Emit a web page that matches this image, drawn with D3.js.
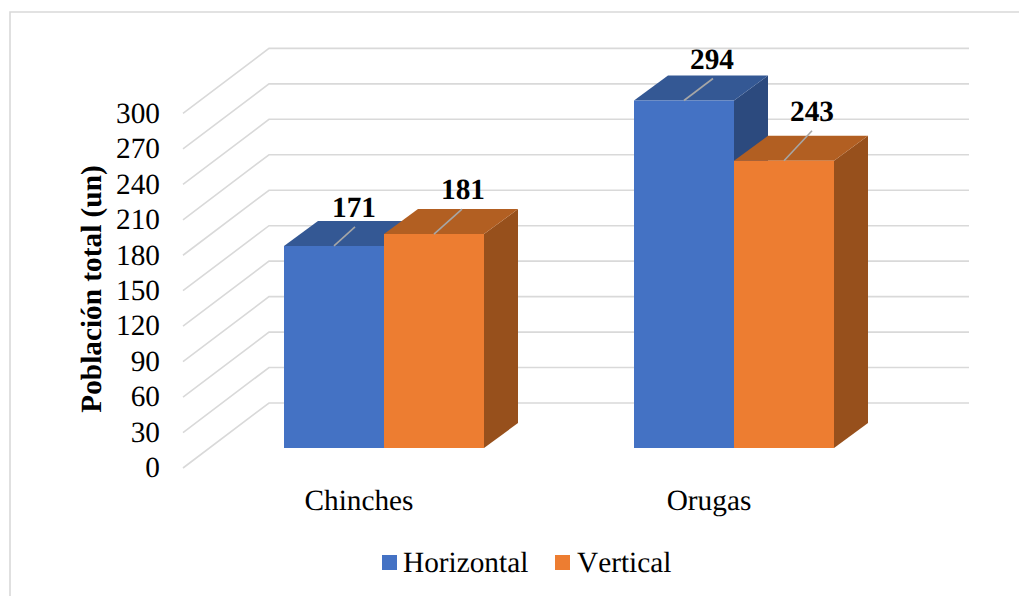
<!DOCTYPE html>
<html>
<head>
<meta charset="utf-8">
<script src="https://cdn.jsdelivr.net/npm/d3@7/dist/d3.min.js"></script>
<style>
  html, body { margin: 0; padding: 0; background: #fff; }
  svg { display: block; }
  text { font-family: "Liberation Serif", serif; fill: #000; font-kerning: none; text-rendering: geometricPrecision; }
</style>
</head>
<body>
<div id="chart"></div>
<script>
// Pest population by crop-row orientation
const categories = ["Chinches", "Orugas"];
const seriesNames = ["Horizontal", "Vertical"];
const horizontalValues = [171, 294];
const verticalValues = [181, 243];
const yTicks = [0, 30, 60, 90, 120, 150, 180, 210, 240, 270, 300];
const yTitle = "Población total (un)";

const width = 1019, height = 596;
const seriesValues = [horizontalValues, verticalValues];
const fontSize = 29.3;

const frontColors = ["#4472C4", "#ED7D31"];
const topColors = ["#345894", "#B25F22"];
const sideColors = ["#2C4A7E", "#97501C"];
const gridColor = "#D9D9D9";

// Pseudo-3D projection: depth of the wall and depth of a bar
const wallDepth = { dx: 86, dy: -65 };
const barDepth = { dx: 34, dy: -25 };

const svg = d3.select("#chart").append("svg")
  .attr("width", width).attr("height", height);

// Chart frame
svg.append("path")
  .attr("d", "M10,596 V12 H1019")
  .attr("fill", "none").attr("stroke", gridColor).attr("stroke-width", 1.6);

// Value scale on the front plane of the axis; the bars sit on a plane further in
const y = d3.scaleLinear().domain([0, 300]).range([468, 113.4]);
const barPlaneShift = -20;
const yBar = v => y(v) + barPlaneShift;

const x0 = d3.scaleBand().domain(categories).range([209, 909]);
const barSpan = 200;
const x1 = d3.scaleBand().domain(seriesNames)
  .range([(x0.bandwidth() - barSpan) / 2, (x0.bandwidth() + barSpan) / 2]);

// Gridlines: floor-side diagonal then back wall
const wallLeft = 183, wallRight = 969;
svg.append("g").selectAll("path").data(yTicks).join("path")
  .attr("d", t => d3.line()([
    [wallLeft, y(t)],
    [wallLeft + wallDepth.dx, y(t) + wallDepth.dy],
    [wallRight, y(t) + wallDepth.dy]
  ]))
  .attr("fill", "none").attr("stroke", gridColor).attr("stroke-width", 1.6);

// Bars, drawn series by series so the right-hand block overlaps the left
const bars = svg.append("g");
categories.forEach((cat, c) => {
  seriesNames.forEach((name, s) => {
    const left = x0(cat) + x1(name), right = left + x1.bandwidth();
    const top = yBar(seriesValues[s][c]), base = yBar(0);
    const { dx, dy } = barDepth;
    const poly = (pts, fill) => bars.append("polygon")
      .attr("points", pts.map(p => p.join(",")).join(" "))
      .attr("fill", fill);
    poly([[right, top], [right + dx, top + dy], [right + dx, base + dy], [right, base]], sideColors[s]);
    poly([[left, top], [left + dx, top + dy], [right + dx, top + dy], [right, top]], topColors[s]);
    poly([[left, top], [right, top], [right, base], [left, base]], frontColors[s]);
  });
});

// Value labels with their leader lines, offset from each bar's top centre
const leaderEnds = [[[21, -19], [28, -25]], [[29, -22], [28, -30]]];
const labelOffsets = [[[20, -29], [29, -35]], [[28, -31], [28, -40]]];
const labels = svg.append("g");
categories.forEach((cat, c) => {
  seriesNames.forEach((name, s) => {
    const v = seriesValues[s][c];
    const cx = x0(cat) + x1(name) + x1.bandwidth() / 2;
    const cy = yBar(v);
    const [lx, ly] = leaderEnds[c][s];
    const [tx, ty] = labelOffsets[c][s];
    labels.append("line")
      .attr("x1", cx).attr("y1", cy).attr("x2", cx + lx).attr("y2", cy + ly)
      .attr("stroke", "#A6A6A6").attr("stroke-width", 1.6);
    labels.append("text")
      .attr("x", cx + tx).attr("y", cy + ty)
      .attr("text-anchor", "middle")
      .attr("font-size", fontSize).attr("font-weight", "bold")
      .text(v);
  });
});

// Value axis labels
const yAxis = svg.append("g")
  .attr("transform", "translate(168,0)")
  .call(d3.axisLeft(y).tickValues(yTicks).tickSize(0).tickPadding(8));
yAxis.select(".domain").remove();
yAxis.selectAll("text").attr("font-size", fontSize).attr("font-family", "Liberation Serif").attr("dy", "0.3em");

// Category axis labels, centred under each cluster
const xAxis = svg.append("g")
  .attr("transform", "translate(-25,489)")
  .call(d3.axisBottom(x0).tickSize(0).tickPadding(0));
xAxis.select(".domain").remove();
xAxis.selectAll("text").attr("font-size", fontSize).attr("font-family", "Liberation Serif");

// Value axis title
svg.append("text")
  .attr("transform", "translate(101,289) rotate(-90)")
  .attr("text-anchor", "middle")
  .attr("font-size", fontSize).attr("font-weight", "bold")
  .text(yTitle);

// Legend
const legendX = [382, 555];
const legend = svg.append("g").selectAll("g").data(seriesNames).join("g")
  .attr("transform", (d, i) => `translate(${legendX[i]},555)`);
legend.append("rect").attr("width", 15).attr("height", 15)
  .attr("fill", (d, i) => frontColors[i]);
legend.append("text").attr("x", (d, i) => i ? 22 : 21).attr("y", 16.5)
  .attr("font-size", fontSize).text(d => d);
</script>
</body>
</html>
